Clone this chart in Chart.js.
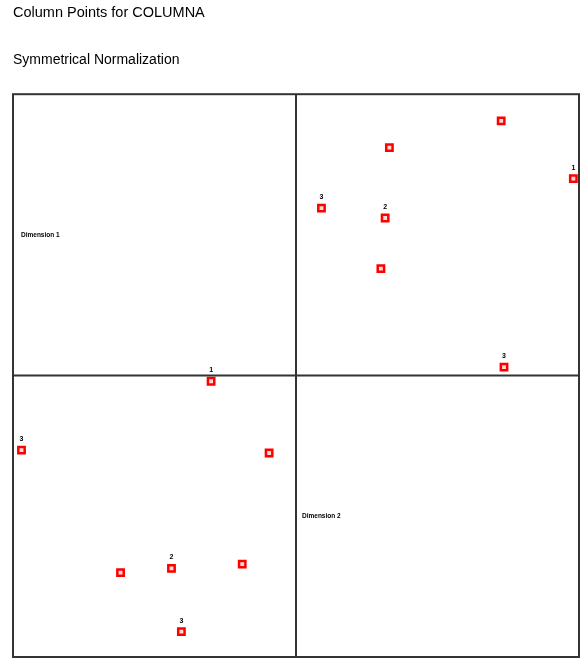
<!DOCTYPE html>
<html>
<head>
<meta charset="utf-8">
<script src="https://cdn.jsdelivr.net/npm/chart.js@4/dist/chart.umd.min.js"></script>
<style>
    body { margin: 0; background: #ffffff; }
    #wrap { width: 584px; height: 659px; }
</style>
</head>
<body>
<div id="wrap"><canvas id="myChart" width="584" height="659"></canvas></div>
<script>
// données : coordonnées des points colonnes (normalisation symétrique)
const pointLabels = ["", "", "1", "3", "2", "", "3"];
const dim1 = [0.81, 0.62, 0.40, 0.19, 0.12, -0.24, -0.94];
const dim2 = [0.45, -0.34, 0.96, -0.82, -0.37, -0.40, 0.47];
const dimNames = ["Dimension 1", "Dimension 2"];
const axisMin = -1;
const axisMax = 1;

var canvas = document.getElementById("myChart");
var ctx = canvas.getContext('2d');

/**
 * mise en forme des données pour scatter
 * @param {array} x
 * @param {array} y
 * @returns {array}
 */
function mef(x, y) {
    const li = [];
    for (let i = 0; i < x.length; i++) {
        li.push({x: x[i], y: y[i]});
    }
    return li;
}

// cadre + lignes de séparation de la matrice
const framePlugin = {
    id: 'frame',
    afterDatasetsDraw(chart) {
        const c = chart.ctx;
        const a = chart.chartArea;
        const xL = chart.scales.xL;
        const yT = chart.scales.yT;
        c.save();
        c.strokeStyle = '#333333';
        c.lineWidth = 2;
        c.strokeRect(a.left, a.top, a.right - a.left, a.bottom - a.top);
        c.beginPath();
        c.moveTo(xL.right, a.top);
        c.lineTo(xL.right, a.bottom);
        c.moveTo(a.left, yT.bottom);
        c.lineTo(a.right, yT.bottom);
        c.stroke();

        // noms des dimensions dans la diagonale
        c.fillStyle = '#000000';
        c.font = 'bold 6.5px "Liberation Sans", Arial, sans-serif';
        c.textAlign = 'left';
        c.textBaseline = 'middle';
        c.fillText(dimNames[0], xL.left + 8, (yT.top + yT.bottom) / 2);
        const xR = chart.scales.xR;
        const yB = chart.scales.yB;
        c.fillText(dimNames[1], xR.left + 6, (yB.top + yB.bottom) / 2);

        // étiquettes des points
        c.textAlign = 'center';
        c.font = 'bold 7px "Liberation Sans", Arial, sans-serif';
        chart.data.datasets.forEach((ds, di) => {
            const meta = chart.getDatasetMeta(di);
            meta.data.forEach((pt, i) => {
                if (pointLabels[i]) {
                    c.fillText(pointLabels[i], pt.x, pt.y - 11);
                }
            });
        });
        c.restore();
    }
};

function hiddenScale(position, stack) {
    return {
        type: 'linear',
        position: position,
        stack: stack,
        stackWeight: 1,
        min: axisMin,
        max: axisMax,
        display: false,
        grid: {display: false}
    };
}

const pointStyle = {
    pointStyle: 'rect',
    pointRadius: 4.5,
    pointHoverRadius: 4.5,
    borderColor: '#ff0000',
    backgroundColor: '#ffd8d8',
    borderWidth: 2.5,
    showLine: false,
    clip: false
};

var myChart = new Chart(ctx, {
    type: 'scatter',
    data: {
        datasets: [
            Object.assign({
                label: 'dim2 x dim1',
                data: mef(dim2, dim1),
                xAxisID: 'xR',
                yAxisID: 'yT'
            }, pointStyle),
            Object.assign({
                label: 'dim1 x dim2',
                data: mef(dim1, dim2),
                xAxisID: 'xL',
                yAxisID: 'yB'
            }, pointStyle)
        ]
    },
    options: {
        responsive: false,
        animation: false,
        layout: {autoPadding: false, padding: {left: 13, right: 5, top: 0, bottom: 2}},
        plugins: {
            legend: {display: false},
            tooltip: {enabled: false},
            title: {
                display: true,
                text: 'Column Points for COLUMNA',
                align: 'start',
                color: '#000000',
                font: {family: '"Liberation Sans", Arial, sans-serif', size: 14.5, weight: 'normal'},
                padding: {top: 4, bottom: 0}
            },
            subtitle: {
                display: true,
                text: 'Symmetrical Normalization',
                align: 'start',
                color: '#000000',
                font: {family: '"Liberation Sans", Arial, sans-serif', size: 14, weight: 'normal'},
                padding: {top: 30, bottom: 26}
            }
        },
        // les axes de gauche sont empilés à l'envers : yB avant yT
        scales: {
            xL: hiddenScale('bottom', 'x'),
            xR: hiddenScale('bottom', 'x'),
            yB: hiddenScale('left', 'y'),
            yT: hiddenScale('left', 'y')
        }
    },
    plugins: [framePlugin]
});
</script>
</body>
</html>
